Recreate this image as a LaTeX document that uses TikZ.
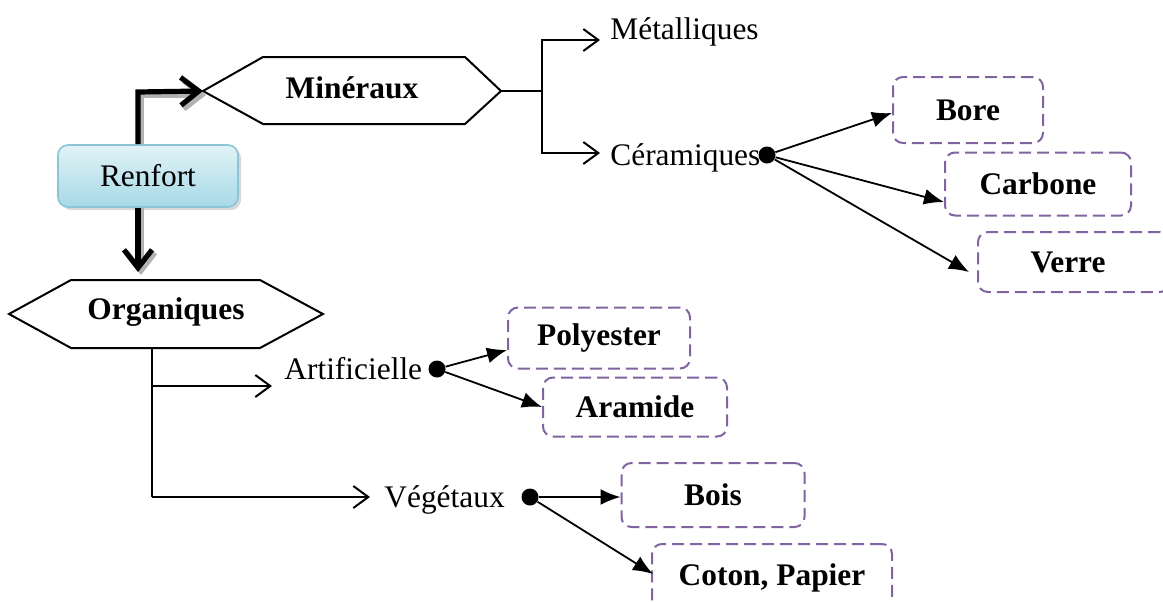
\documentclass[tikz,border=0pt]{standalone}
\usepackage{fontspec}
\setmainfont{Liberation Serif}
\usetikzlibrary{arrows.meta,shadows,calc}
\definecolor{dpurple}{HTML}{8064A2}
\definecolor{rtop}{HTML}{E2F3F7}
\definecolor{rbot}{HTML}{A6D9E6}
\definecolor{rborder}{HTML}{8CC6D6}
\begin{document}
\begin{tikzpicture}[x=0.5pt,y=-0.5pt,
  txt/.style={font=\fontsize{15.7}{18}\selectfont, inner sep=0pt},
  btxt/.style={font=\fontsize{15.7}{18}\selectfont\bfseries, inner sep=0pt},
  leaf/.style={draw=dpurple, line width=1pt, dash pattern=on 6pt off 3pt, rounded corners=5pt,
     font=\fontsize{15.7}{18}\selectfont\bfseries, inner sep=0pt},
  thin/.style={line width=1pt},
  oarrow/.style={line width=1pt, -{Straight Barb[length=7.5pt,width=11pt,line width=1pt]}},
  farrow/.style={line width=0.9pt, -{Latex[length=10pt,width=8pt]}},
  thick/.style={line width=2.6pt, -{Straight Barb[length=9pt,width=14pt,line width=2.6pt]}},
  dotn/.style={circle, fill=black, inner sep=0pt, minimum size=8.5pt}]
\useasboundingbox (0,0) rectangle (1163,601);

% Renfort
\node[draw=rborder, line width=0.8pt, rounded corners=5pt, top color=rtop, bottom color=rbot,
  minimum width=90pt, minimum height=31pt, txt,
  drop shadow={shadow xshift=1.5pt, shadow yshift=-1.5pt, fill=gray!60}] (ren) at (148,176) {Renfort};

% Minéraux hexagon
\coordinate (minL) at (203,91);
\coordinate (minR) at (501,91);
\draw[thin] (minL) -- (263,57) -- (465,57) -- (minR) -- (465,124) -- (263,124) -- cycle;
\node[btxt] (min) at (352,88) {Minéraux};

% Organiques hexagon
\coordinate (orgL) at (9,314);
\coordinate (orgR) at (323,314);
\coordinate (orgB) at (152,348);
\draw[thin] (orgL) -- (71,280) -- (260,280) -- (orgR) -- (260,348) -- (71,348) -- cycle;
\node[btxt] (org) at (166,312) {Organiques};

% thick arrows with shadow
\draw[thick, gray!60] ($(ren.north)+(-7,0)$) -- (141,95) -- (206,95);
\draw[thick] ($(ren.north)+(-10,0)$) -- (138,92) -- (minL);
\draw[thick, gray!60] ($(ren.south)+(-7,0)$) -- (141,275);
\draw[thick] ($(ren.south)+(-10,0)$) -- (138,272);

% Minéraux branches
\node[txt, anchor=base west] (met) at (610,39) {Métalliques};
\node[txt, anchor=base west] (cer) at (610,165) {Céramiques};
\coordinate (j1) at (542,91);
\draw[thin] (minR) -- (j1);
\draw[oarrow] (j1) |- ($(met.base west)+(-10,1)$);
\draw[oarrow] (j1) |- ($(cer.base west)+(-10,-12)$);
\node[dotn] (d1) at (767,155) {};

\node[leaf, minimum width=75pt, minimum height=33pt] (bore) at (968,110) {Bore};
\node[leaf, minimum width=93pt, minimum height=31.5pt] (carb) at (1038,184) {Carbone};
\node[leaf, minimum width=96pt, minimum height=30pt] (verre) at (1074,262) {\hspace*{-6pt}Verre};
\draw[farrow] (d1) -- ($(bore.west)+(0,3)$);
\draw[farrow] (d1) -- ($(carb.west)+(0,18)$);
\draw[farrow] (d1) -- ($(verre.west)+(-8,10)$);

% Organiques branches
\node[txt, anchor=base west] (art) at (284,379) {Artificielle};
\node[txt, anchor=base west] (veg) at (384,507) {Végétaux};
\coordinate (j2) at (152,386);
\coordinate (j3) at (152,497);
\draw[thin] (orgB) -- (j3);
\draw[oarrow] (j2) -- (272,386);
\draw[oarrow] (j3) -- (370,497);

\node[dotn] (d2) at (437,369) {};
\node[dotn] (d3) at (530,497) {};

\node[leaf, minimum width=91pt, minimum height=30.5pt] (poly) at (599,338) {Polyester};
\node[leaf, minimum width=92pt, minimum height=29.5pt] (ara) at (635,407) {Aramide};
\node[leaf, minimum width=91.5pt, minimum height=32pt] (bois) at (713,495) {Bois};
\node[leaf, minimum width=120pt, minimum height=34pt] (coton) at (772,578) {Coton, Papier};

\draw[farrow] (d2) -- ($(poly.west)+(0,12)$);
\draw[farrow] (d2) -- (ara.west);
\draw[farrow] (d3) -- ($(bois.west)+(0,2)$);
\draw[farrow] (d3) -- ($(coton.west)+(2,-4)$);
\end{tikzpicture}
\end{document}
